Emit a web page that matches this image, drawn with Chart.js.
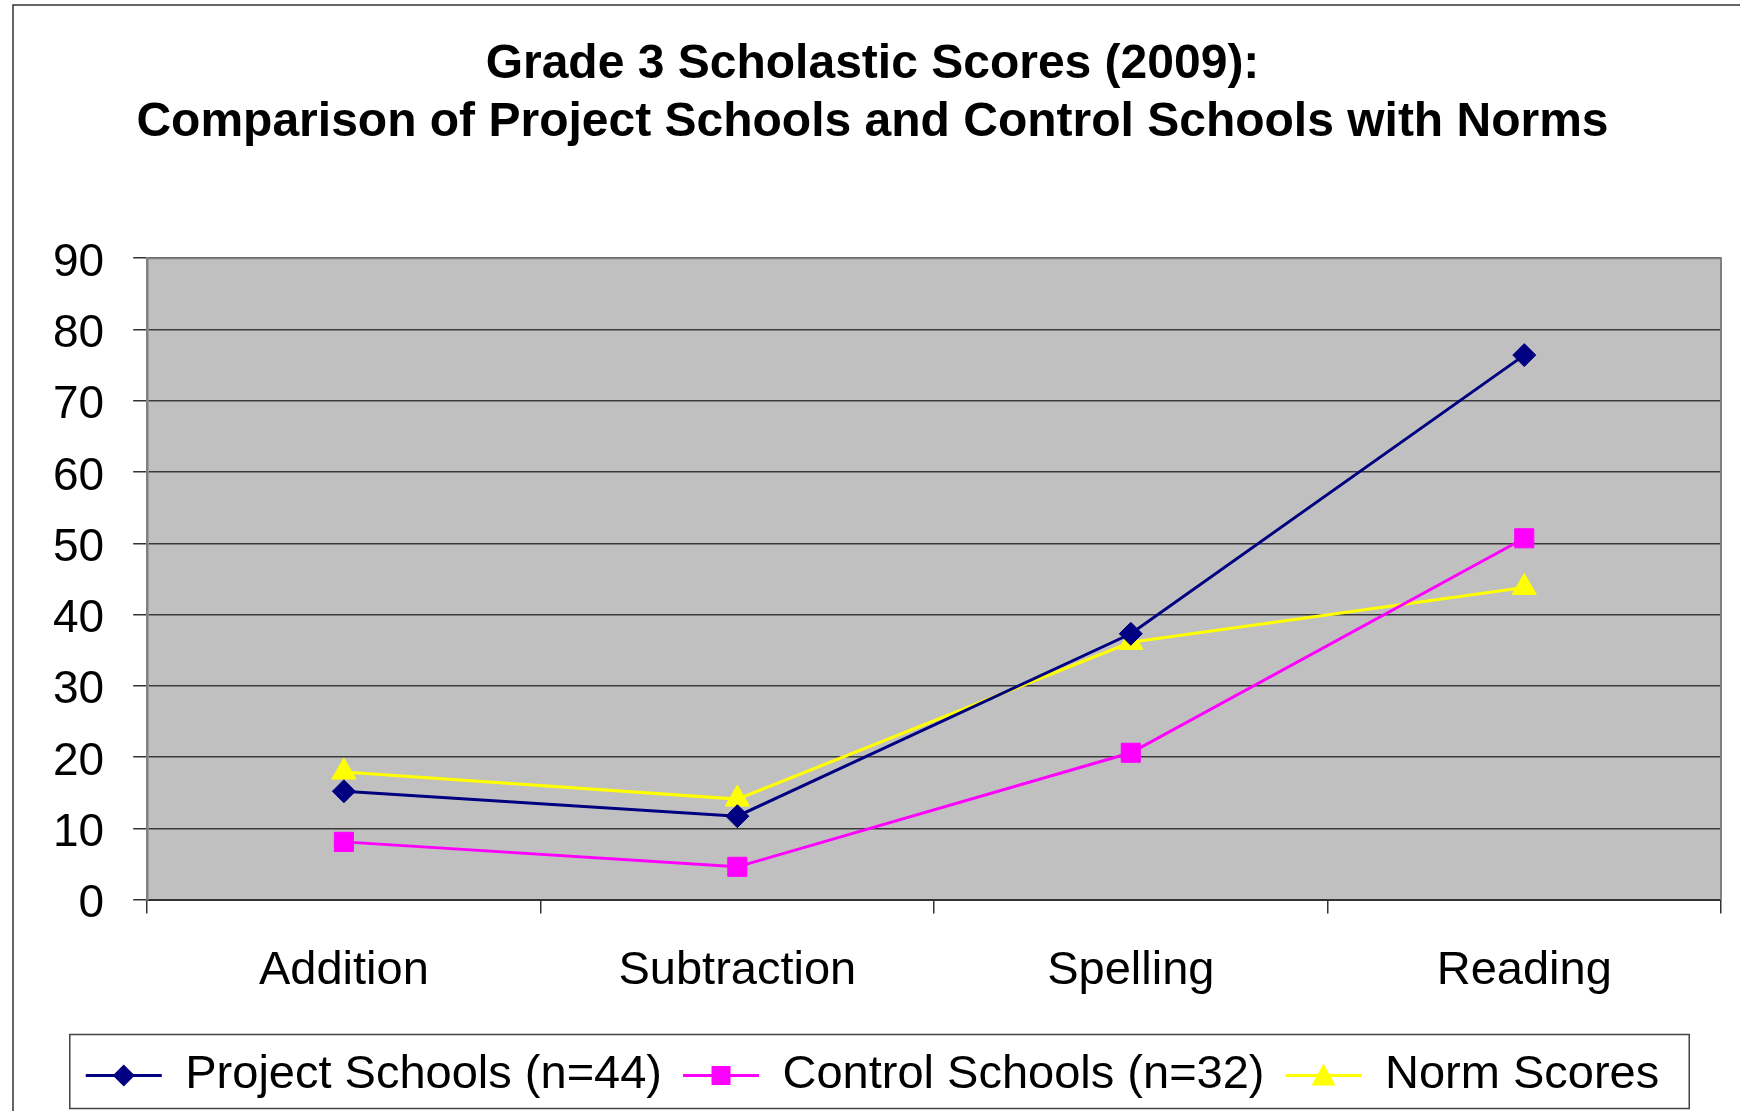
<!DOCTYPE html>
<html>
<head>
<meta charset="utf-8">
<script src="https://cdn.jsdelivr.net/npm/chart.js@4/dist/chart.umd.min.js"></script>
<style>
  html, body { margin: 0; padding: 0; background: #fff; }
  #wrap { width: 1740px; height: 1111px; position: relative; }
</style>
</head>
<body>
<div id="wrap"><canvas id="scoreChart"></canvas></div>
<script>
// data
var categories = ["Addition", "Subtraction", "Spelling", "Reading"];
var projectScores = [15.2, 11.7, 37.3, 76.4];
var controlScores = [8.1, 4.6, 20.6, 50.7];
var normScores = [17.9, 14.1, 36.1, 43.8];
var seriesNames = ["Project Schools (n=44)", "Control Schools (n=32)", "Norm Scores"];
var titleLines = ["Grade 3 Scholastic Scores (2009):", "Comparison of Project Schools and Control Schools with Norms"];
var yMin = 0, yMax = 90, yStep = 10;

var FONT = "'Liberation Sans', Arial, Helvetica, sans-serif";

function makeSeries(label, data, color, style, radius){
    return {
        label: label,
        data: data,
        borderColor: color,
        backgroundColor: color,
        borderWidth: 3,
        pointStyle: style,
        pointRadius: radius,
        pointHoverRadius: radius,
        pointBackgroundColor: color,
        pointBorderColor: color,
        pointBorderWidth: 1,
        tension: 0
    };
}

// gray plot background, frame round the whole chart, box round the legend
var decorations = {
    id: "decorations",
    beforeDraw: function(chart){
        var ctx = chart.ctx, a = chart.chartArea;
        ctx.save();
        ctx.fillStyle = "#fff";
        ctx.fillRect(0, 0, chart.width, chart.height);
        ctx.fillStyle = "#c0c0c0";
        ctx.fillRect(a.left, a.top, a.right - a.left, a.bottom - a.top);
        ctx.restore();
    },
    afterDatasetsDraw: function(chart){
        var ctx = chart.ctx, a = chart.chartArea;
        ctx.save();
        ctx.strokeStyle = "#808080";
        ctx.lineWidth = 2;
        ctx.beginPath();
        ctx.moveTo(a.left, a.top);
        ctx.lineTo(a.right, a.top);
        ctx.lineTo(a.right, a.bottom);
        ctx.stroke();
        ctx.restore();
    },
    afterDraw: function(chart){
        var ctx = chart.ctx;
        ctx.save();
        // outer frame (only top & left are visible in the crop)
        ctx.strokeStyle = "#333";
        ctx.lineWidth = 1.5;
        ctx.beginPath();
        ctx.moveTo(13, chart.height);
        ctx.lineTo(13, 5);
        ctx.lineTo(chart.width, 5);
        ctx.stroke();

        var lg = chart.legend;
        var boxes = lg.legendHitBoxes;
        if(boxes && boxes.length){
            var minL = Infinity, maxR = -Infinity;
            for(var i=0;i<boxes.length;i++){
                minL = Math.min(minL, boxes[i].left);
                maxR = Math.max(maxR, boxes[i].left + boxes[i].width);
            }
            var cy = boxes[0].top + boxes[0].height / 2;
            ctx.strokeStyle = "#444";
            ctx.lineWidth = 1.5;
            ctx.strokeRect(minL - 16, cy - 41, (maxR - minL) + 46, 74);

            // markers on the legend line samples
            var bw = lg.options.labels.boxWidth;
            for(var j=0;j<boxes.length;j++){
                var ds = chart.data.datasets[j];
                var mx = boxes[j].left + bw / 2;
                var my = boxes[j].top + boxes[j].height / 2;
                drawMarker(ctx, ds.pointStyle, mx, my, ds.pointBackgroundColor);
            }
        }
        ctx.restore();
    }
};

function drawMarker(ctx, style, x, y, color){
    ctx.fillStyle = color;
    ctx.beginPath();
    if(style == "rectRot"){
        ctx.moveTo(x, y - 11);
        ctx.lineTo(x + 11, y);
        ctx.lineTo(x, y + 11);
        ctx.lineTo(x - 11, y);
    }else if(style == "rect"){
        ctx.rect(x - 9.5, y - 9.5, 19, 19);
    }else{
        ctx.moveTo(x, y - 12);
        ctx.lineTo(x + 12, y + 10);
        ctx.lineTo(x - 12, y + 10);
    }
    ctx.closePath();
    ctx.fill();
}

var ctx = document.getElementById("scoreChart");
var scoreChart = new Chart(ctx, {
    type: "line",
    data: {
        labels: categories,
        datasets: [
            makeSeries(seriesNames[0], projectScores, "#000080", "rectRot", 11.5),
            makeSeries(seriesNames[1], controlScores, "#ff00ff", "rect", 13.5),
            makeSeries(seriesNames[2], normScores, "#ffff00", "triangle", 14)
        ]
    },
    options: {
        responsive: true,
        maintainAspectRatio: false,
        animation: false,
        layout: {
            padding: { top: 0, left: 24, right: 19, bottom: 2 }
        },
        plugins: {
            title: {
                display: true,
                text: titleLines,
                color: "#000",
                font: { family: FONT, size: 48, weight: "bold", lineHeight: 1.2 },
                padding: { top: 36, bottom: 107 }
            },
            legend: {
                position: "bottom",
                labels: {
                    color: "#000",
                    font: { family: FONT, size: 47 },
                    boxWidth: 76,
                    boxHeight: 3,
                    padding: 21,
                    generateLabels: function(chart){
                        var items = Chart.defaults.plugins.legend.labels.generateLabels(chart);
                        items.forEach(function(it){
                            it.lineWidth = 0;
                            it.fillStyle = it.strokeStyle;
                        });
                        return items;
                    }
                }
            },
            tooltip: { enabled: false }
        },
        scales: {
            x: {
                offset: true,
                grid: {
                    offset: true,
                    drawOnChartArea: false,
                    drawTicks: true,
                    tickLength: 14,
                    color: "#333",
                    lineWidth: 1.5
                },
                border: { color: "#333", width: 2 },
                ticks: {
                    color: "#000",
                    font: { family: FONT, size: 47 },
                    padding: 29,
                    maxRotation: 0
                },
                afterFit: function(scale){ scale.height += 3; }
            },
            y: {
                min: yMin,
                max: yMax,
                grid: {
                    color: "#3a3a3a",
                    lineWidth: 1.5,
                    tickLength: 14,
                    tickColor: "#333"
                },
                border: { color: "#808080", width: 2.5 },
                ticks: {
                    stepSize: yStep,
                    color: "#000",
                    font: { family: FONT, size: 46 },
                    padding: 29,
                    labelOffset: 5
                }
            }
        }
    },
    plugins: [decorations]
});
</script>
</body>
</html>
